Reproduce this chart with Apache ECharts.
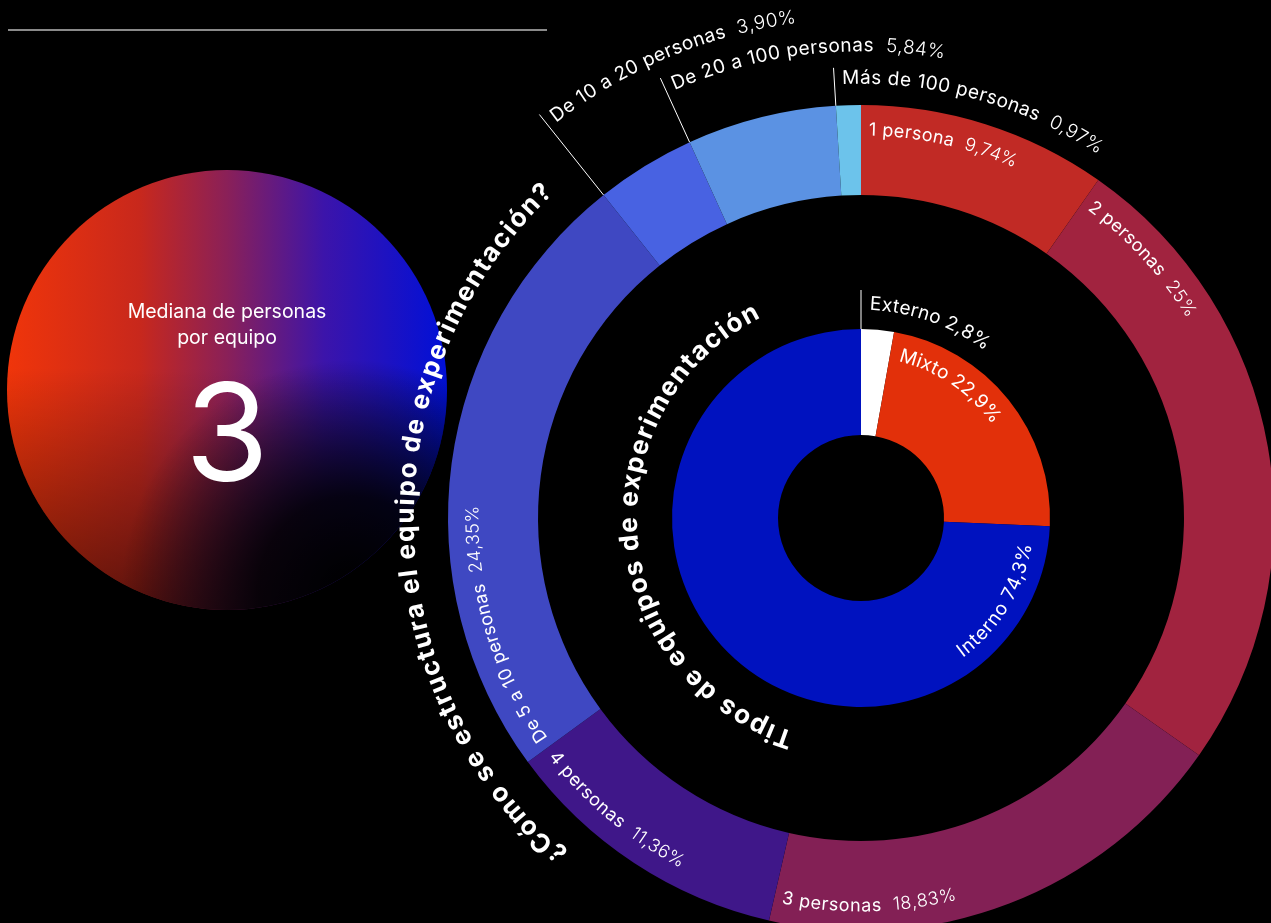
<!DOCTYPE html>
<html>
<head>
<meta charset="utf-8">
<script src="https://cdn.jsdelivr.net/npm/echarts@6/dist/echarts.min.js"></script>
<style>
  html, body { margin: 0; padding: 0; background: #000; }
  #chart { width: 1271px; height: 923px; }
</style>
</head>
<body>
<div id="chart"></div>
<script>
// Outer ring: team size, share of respondents (%)
const sizeCategories = ['1 persona', '2 personas', '3 personas', '4 personas', 'De 5 a 10 personas',
  'De 10 a 20 personas', 'De 20 a 100 personas', 'Más de 100 personas'];
const sizeValues = [9.74, 25, 18.83, 11.36, 24.35, 3.90, 5.84, 0.97];
const sizeColors = ['#c12a25', '#a1233f', '#832055', '#3f1789', '#3f48c2', '#4862e2', '#5b92e3', '#6cc3eb'];

// Inner ring: team type, share of respondents (%)
const typeCategories = ['Externo', 'Mixto', 'Interno'];
const typeValues = [2.8, 22.9, 74.3];
const typeColors = ['#ffffff', '#e2300a', '#0012bf'];

// Median team size shown in the side bubble
const medianLabel = ['Mediana de personas', 'por equipo'];
const medianValue = 3;

const outerTitle = '¿Cómo se estructura el equipo de experimentación?';
const innerTitle = 'Tipos de equipos de experimentación';

// ---- layout ----
const CX = 861, CY = 518;
const OUTER_R = [323, 413];
const INNER_R = [83, 189];
const FONT = 'Inter, "Noto Sans", sans-serif';

const chart = echarts.init(document.getElementById('chart'), null, { renderer: 'canvas' });

const measureCtx = document.createElement('canvas').getContext('2d');
function fontStr(size, weight) { return weight + ' ' + size + 'px ' + FONT; }

function fmtPct(v, decimals) {
  const s = Number.isInteger(v) ? String(v) : v.toFixed(decimals);
  return s.replace('.', ',') + '%';
}

// Place text along a circle around (CX, CY).
// angle in degrees clockwise from 12 o'clock; dir +1 reads clockwise (tops outward),
// dir -1 reads counter-clockwise (tops inward). align refers to where `angle` sits in the text.
function arcText(parts, opt) {
  const glyphs = [];
  let total = 0;
  parts.forEach(p => {
    const f = fontStr(p.size, p.weight);
    const ls = p.spacing || 0;
    measureCtx.font = f;
    const chars = Array.from(p.text);
    for (let i = 0; i < chars.length; i++) {
      const a = measureCtx.measureText(chars.slice(0, i).join('')).width;
      const b = measureCtx.measureText(chars.slice(0, i + 1).join('')).width;
      glyphs.push({ ch: chars[i], p, s: total + a + i * ls, w: b - a });
    }
    total += measureCtx.measureText(p.text).width + chars.length * ls;
  });
  let s0 = 0;
  if (opt.align === 'center') s0 = -total / 2;
  else if (opt.align === 'end') s0 = -total;
  const base = opt.angle * Math.PI / 180;
  const els = [];
  glyphs.forEach(g => {
    if (g.ch === ' ') return;
    const th = base + opt.dir * (s0 + g.s + g.w / 2) / opt.r;
    els.push({
      type: 'text',
      x: CX + opt.r * Math.sin(th),
      y: CY - opt.r * Math.cos(th),
      rotation: opt.dir > 0 ? -th : Math.PI - th,
      z: 20,
      silent: true,
      style: {
        text: g.ch,
        fill: opt.color || '#ffffff',
        fontSize: g.p.size,
        fontWeight: g.p.weight,
        fontFamily: FONT,
        align: 'center',
        verticalAlign: 'middle'
      }
    });
  });
  return els;
}

function segments(values) {
  const sum = values.reduce((a, b) => a + b, 0);
  let acc = 0;
  return values.map(v => {
    const s = acc / sum * 360;
    acc += v;
    return { start: s, end: acc / sum * 360, mid: (s + acc / sum * 360) / 2 };
  });
}

function leader(angleDeg, r0, r1) {
  const t = angleDeg * Math.PI / 180;
  return {
    type: 'line', z: 15, silent: true,
    shape: {
      x1: CX + r0 * Math.sin(t), y1: CY - r0 * Math.cos(t),
      x2: CX + r1 * Math.sin(t), y2: CY - r1 * Math.cos(t)
    },
    style: { stroke: '#ffffff', lineWidth: 1 }
  };
}

const deg = (px, r) => px / r * 180 / Math.PI;
const graphics = [];

// header rule
graphics.push({
  type: 'line', silent: true,
  shape: { x1: 8, y1: 30, x2: 547, y2: 30 },
  style: { stroke: '#8a8a8a', lineWidth: 2 }
});

// median bubble
const bubble = { cx: 227, cy: 390, r: 220 };
graphics.push({
  type: 'circle', silent: true, z: 1, shape: bubble,
  style: {
    fill: new echarts.graphic.LinearGradient(0, 0, 1, 0, [
      { offset: 0, color: '#f0350a' },
      { offset: 0.3, color: '#c8281c' },
      { offset: 0.5, color: '#8a2058' },
      { offset: 0.72, color: '#3c14aa' },
      { offset: 1, color: '#0010d8' }
    ])
  }
});
graphics.push({
  type: 'circle', silent: true, z: 2, shape: bubble,
  style: {
    fill: new echarts.graphic.LinearGradient(0, 0, 0, 1, [
      { offset: 0, color: 'rgba(0,0,0,0)' },
      { offset: 0.45, color: 'rgba(0,0,0,0)' },
      { offset: 1, color: 'rgba(0,0,0,0.55)' }
    ])
  }
});
graphics.push({
  type: 'circle', silent: true, z: 3, shape: bubble,
  style: {
    fill: new echarts.graphic.RadialGradient(0.78, 0.95, 0.52, [
      { offset: 0, color: 'rgba(0,0,0,1)' },
      { offset: 0.4, color: 'rgba(0,0,0,0.85)' },
      { offset: 1, color: 'rgba(0,0,0,0)' }
    ])
  }
});
medianLabel.forEach((t, i) => {
  graphics.push({
    type: 'text', silent: true, z: 5, x: bubble.cx, y: 312 + i * 26,
    style: { text: t, fill: '#fff', fontSize: 19.5, fontFamily: FONT, fontWeight: 400, align: 'center', verticalAlign: 'middle' }
  });
});
graphics.push({
  type: 'text', silent: true, z: 5, x: bubble.cx, y: 440,
  style: { text: String(medianValue), fill: '#fff', fontSize: 136, fontFamily: FONT, fontWeight: 400, align: 'center', verticalAlign: 'middle' }
});

// outer ring labels
const outerSeg = segments(sizeValues);
const outsideIdx = [];
sizeCategories.forEach((name, i) => {
  const seg = outerSeg[i];
  const val = fmtPct(sizeValues[i], 2);
  if (sizeValues[i] < 8) { outsideIdx.push(i); return; }
  const r = 388, pad = 8;
  const ccw = seg.mid > 90 && seg.mid < 270;
  const parts = [
    { text: name, size: 18, weight: 400, spacing: 0.5 },
    { text: '  ' + val, size: 18, weight: 300, spacing: 0.5 }
  ];
  const opt = ccw
    ? { r, dir: -1, angle: seg.end - deg(pad, r), align: 'start' }
    : { r, dir: 1, angle: seg.start + deg(pad, r), align: 'start' };
  graphics.push(...arcText(parts, opt));
});
// small slices: stacked labels outside the ring with leader lines
outsideIdx.slice().reverse().forEach((i, k) => {
  const seg = outerSeg[i];
  const r = 440 + k * 32.5;
  graphics.push(leader(seg.start, OUTER_R[1], r + 11));
  graphics.push(...arcText([
    { text: sizeCategories[i], size: 19, weight: 400, spacing: 0.6 },
    { text: '  ' + fmtPct(sizeValues[i], 2), size: 19, weight: 300, spacing: 0.6 }
  ], { r, dir: 1, angle: seg.start + deg(8, r), align: 'start' }));
});

// inner ring labels
const innerSeg = segments(typeValues);
typeCategories.forEach((name, i) => {
  const seg = innerSeg[i];
  const parts = [
    { text: name, size: 19, weight: 400, spacing: 0.5 },
    { text: ' ' + fmtPct(typeValues[i], 1), size: 19, weight: 400, spacing: 0.5 }
  ];
  if (typeValues[i] < 5) {
    const r = 214;
    graphics.push(leader(seg.start, INNER_R[1], 228));
    graphics.push(...arcText(parts, { r, dir: 1, angle: seg.start + deg(9, r), align: 'start' }));
    return;
  }
  const r = 167;
  const ccw = seg.mid > 90 && seg.mid < 270;
  const opt = ccw
    ? { r, dir: -1, angle: seg.start + deg(18, r), align: 'end' }
    : { r, dir: 1, angle: seg.start + deg(10, r), align: 'start' };
  graphics.push(...arcText(parts, opt));
});

// ring titles
graphics.push(...arcText([{ text: outerTitle, size: 26, weight: 700, spacing: 2 }], { r: 455, dir: 1, angle: 269, align: 'center' }));
graphics.push(...arcText([{ text: innerTitle, size: 26, weight: 700, spacing: 2.2 }], { r: 232, dir: 1, angle: 265.6, align: 'center' }));

const option = {
  backgroundColor: '#000000',
  animation: false,
  series: [
    {
      type: 'pie',
      center: [CX, CY],
      radius: OUTER_R,
      startAngle: 90,
      clockwise: true,
      silent: true,
      z: 5,
      label: { show: false },
      labelLine: { show: false },
      emphasis: { disabled: true },
      itemStyle: { borderWidth: 0 },
      data: sizeCategories.map((n, i) => ({ name: n, value: sizeValues[i], itemStyle: { color: sizeColors[i] } }))
    },
    {
      type: 'pie',
      center: [CX, CY],
      radius: INNER_R,
      startAngle: 90,
      clockwise: true,
      silent: true,
      z: 5,
      label: { show: false },
      labelLine: { show: false },
      emphasis: { disabled: true },
      itemStyle: { borderWidth: 0 },
      data: typeCategories.map((n, i) => ({ name: n, value: typeValues[i], itemStyle: { color: typeColors[i] } }))
    }
  ],
  graphic: { elements: graphics }
};

chart.setOption(option);
</script>
</body>
</html>
